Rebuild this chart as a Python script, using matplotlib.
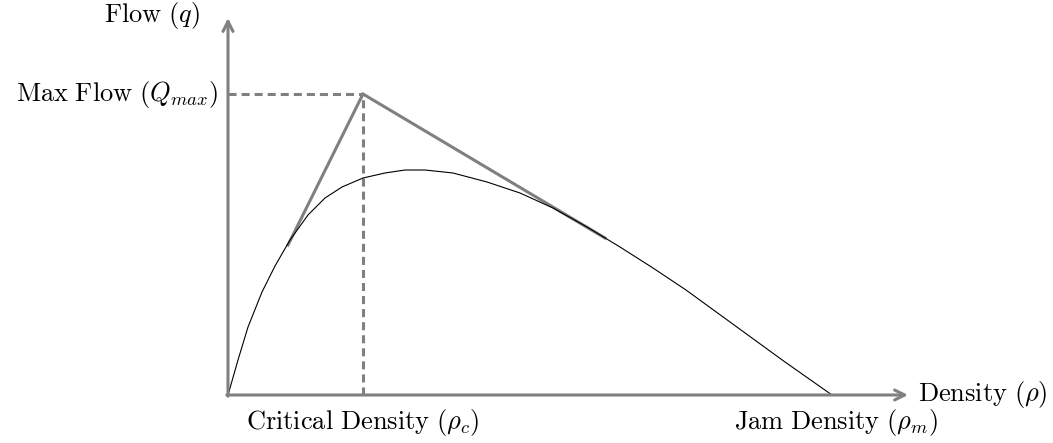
import numpy as np
import matplotlib.pyplot as plt

plt.rcParams['mathtext.fontset'] = 'cm'
plt.rcParams['lines.scale_dashes'] = False

# fundamental diagram curve (density, flow)
curve_density = [0, 0.10, 0.20, 0.34, 0.47, 0.62, 0.80, 0.97, 1.14, 1.35, 1.57, 1.77, 1.97,
                 2.25, 2.59, 2.92, 3.25, 3.59, 3.92, 4.25, 4.58, 4.91, 5.24, 5.57, 6.04]
curve_flow = [0, 0.35, 0.68, 1.03, 1.29, 1.55, 1.80, 1.97, 2.08, 2.17, 2.22, 2.25, 2.25,
              2.22, 2.13, 2.02, 1.87, 1.68, 1.48, 1.27, 1.05, 0.81, 0.57, 0.33, 0]

# triangular approximation
tri_density = [0.60, 1.35, 3.77]
tri_flow = [1.50, 3.01, 1.57]

rho_c = 1.35
q_max = 3.01
rho_m = 6.08
x_end = 6.80
y_end = 3.77

gray = '#808080'

fig = plt.figure(figsize=(10.53, 4.43), dpi=100)
ax = fig.add_axes([0, 0, 1, 1])
ax.set_xlim(-2.28, 8.25)
ax.set_ylim(-0.48, 3.95)
ax.axis('off')

# axes with arrows
ax.annotate('', xy=(x_end, 0), xytext=(-0.012, 0),
            arrowprops=dict(arrowstyle='->', color=gray, lw=2.2, shrinkA=0, shrinkB=0,
                            mutation_scale=18))
ax.annotate('', xy=(0, y_end), xytext=(0, -0.012),
            arrowprops=dict(arrowstyle='->', color=gray, lw=2.2, shrinkA=0, shrinkB=0,
                            mutation_scale=18))

# dashed guides
ax.plot([0, rho_c], [q_max, q_max], color=gray, lw=2.2, dashes=(5.8, 3.6))
ax.plot([rho_c, rho_c], [0, q_max], color=gray, lw=2.2, dashes=(5.8, 3.6))

ax.plot(tri_density, tri_flow, color=gray, lw=2.2, solid_joinstyle='miter')
ax.plot(curve_density, curve_flow, color='black', lw=0.8)

fs = 19
ax.text(-0.28, 3.79, r'$\mathrm{Flow}\ (q)$', ha='right', va='center', fontsize=fs)
ax.text(-0.10, q_max, r'$\mathrm{Max\ Flow}\ (Q_{max})$', ha='right', va='center', fontsize=fs)
ax.text(6.90, 0, r'$\mathrm{Density}\ (\rho)$', ha='left', va='center', fontsize=fs)
ax.text(rho_c, -0.28, r'$\mathrm{Critical\ Density}\ (\rho_c)$', ha='center', va='center', fontsize=fs)
ax.text(rho_m, -0.28, r'$\mathrm{Jam\ Density}\ (\rho_m)$', ha='center', va='center', fontsize=fs)

plt.savefig('out.png', dpi=100)
